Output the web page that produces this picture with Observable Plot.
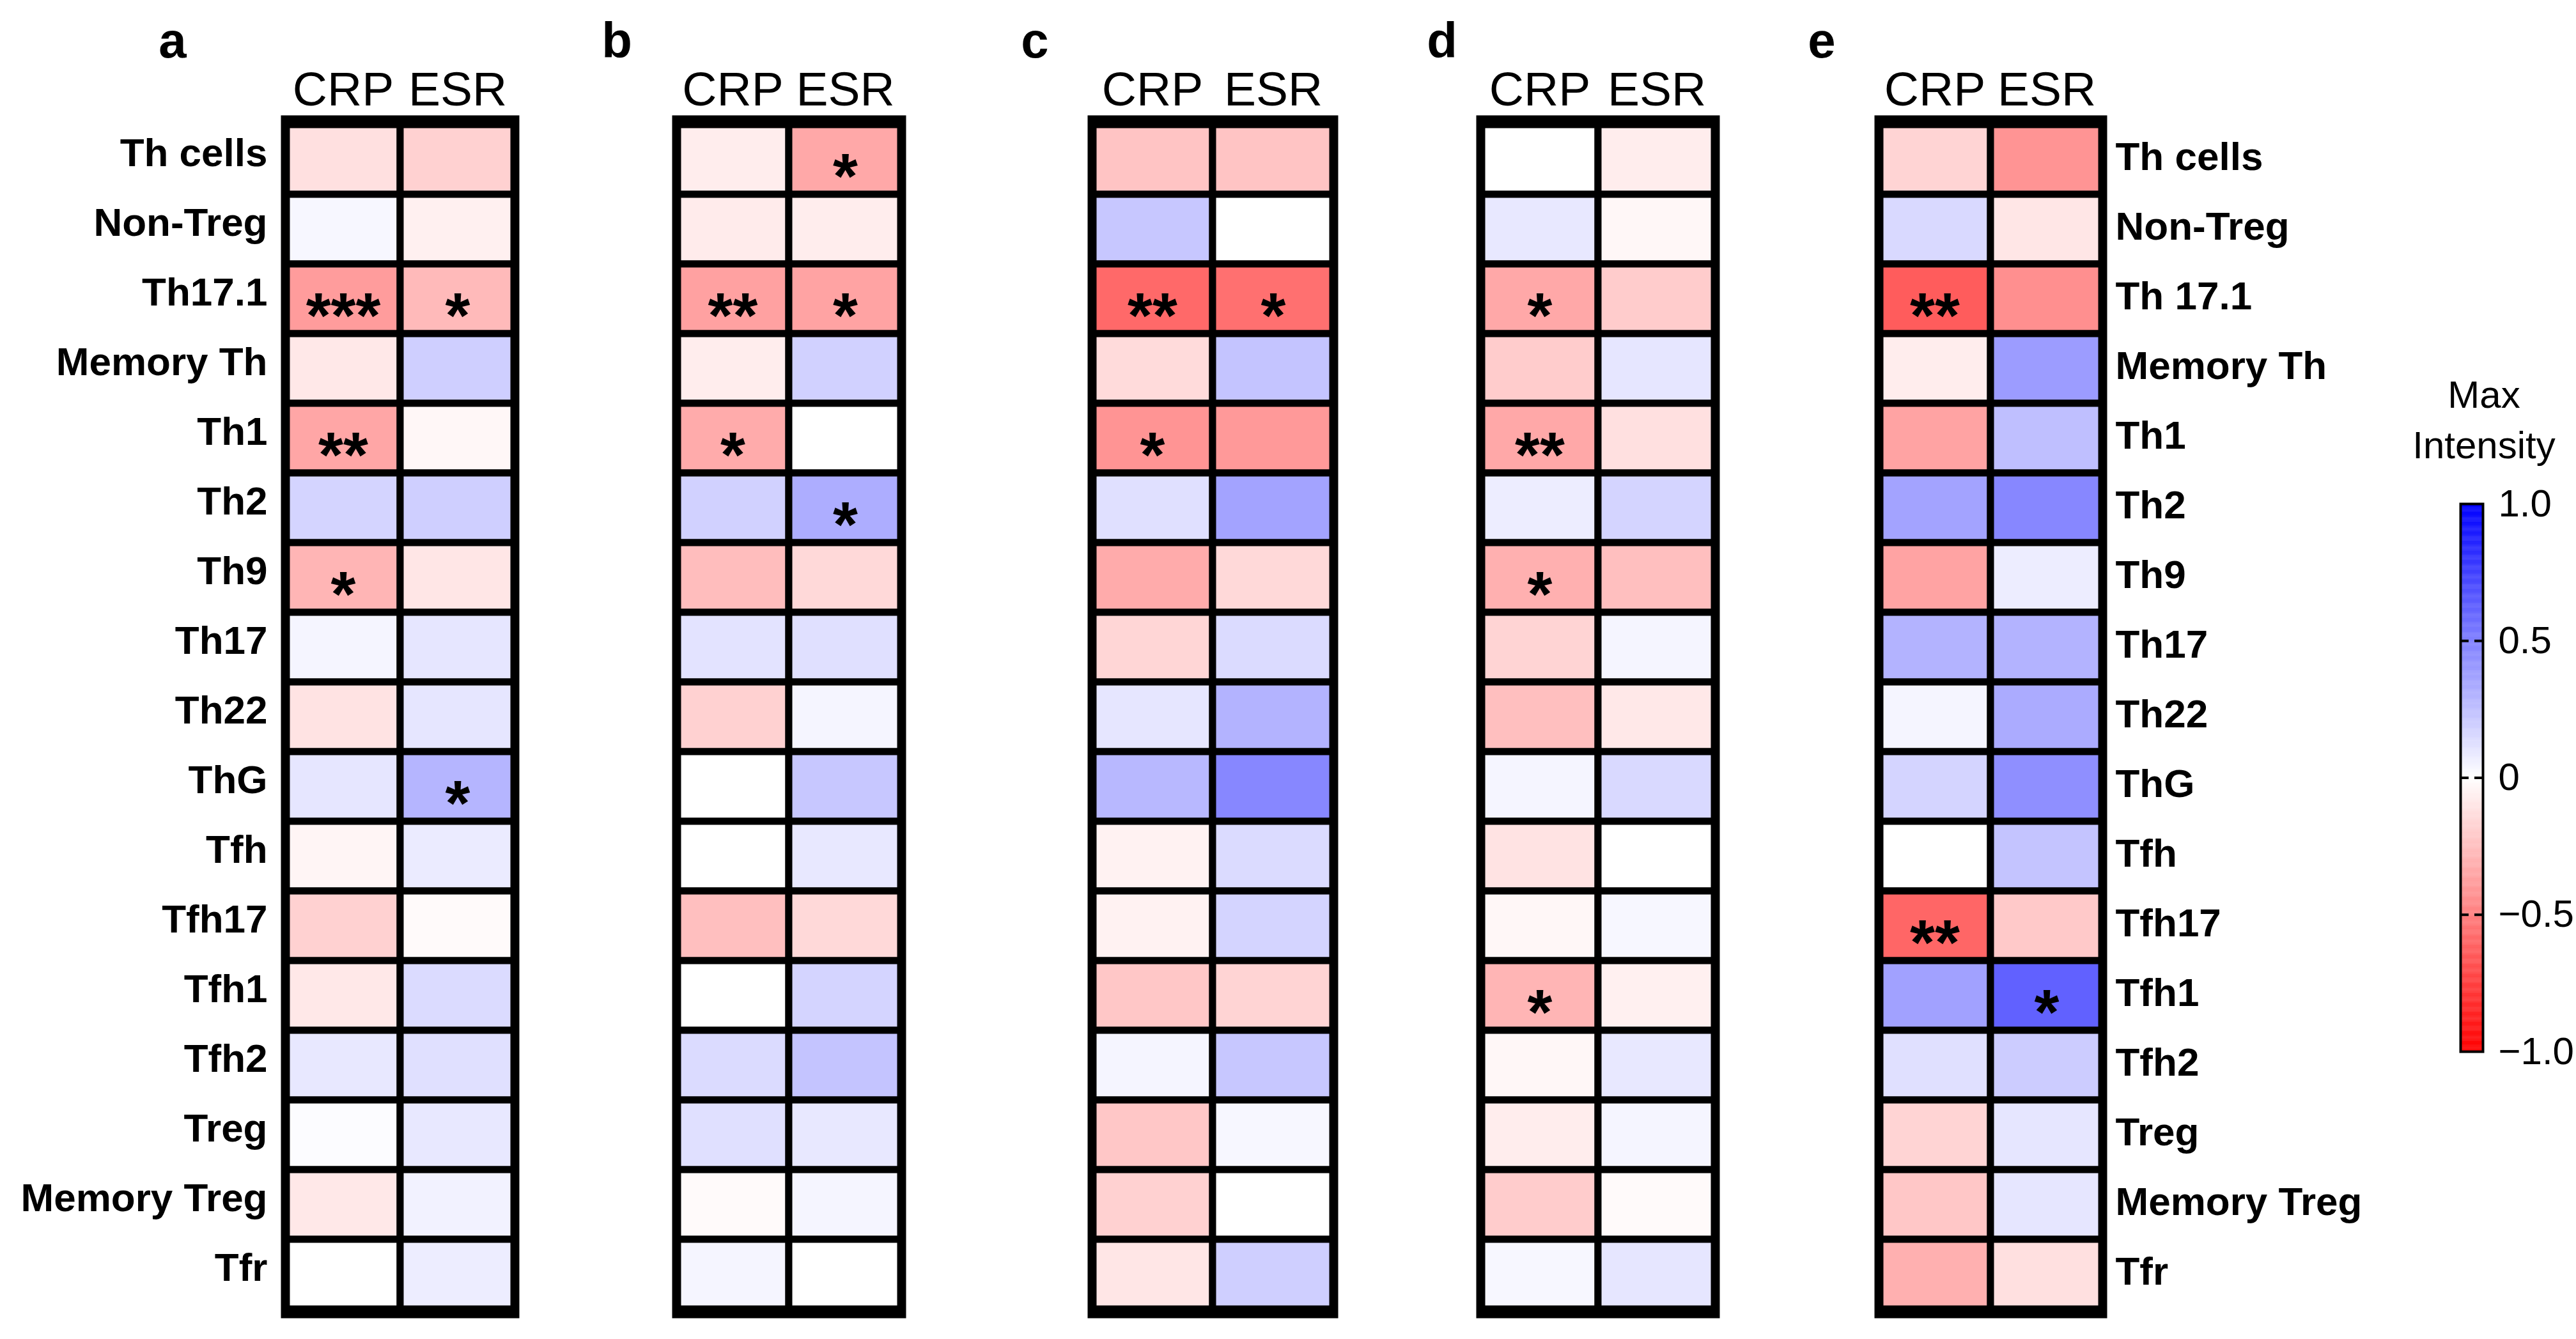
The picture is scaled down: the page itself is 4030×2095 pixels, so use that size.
<!DOCTYPE html>
<html>
<head>
<meta charset="utf-8">
<script src="https://cdn.jsdelivr.net/npm/d3@7"></script>
<script src="https://cdn.jsdelivr.net/npm/@observablehq/plot@0.6"></script>
<style>
  body { margin: 0; background: #fff; }
  #page { position: relative; width: 4030px; height: 2095px; background: #fff; overflow: hidden;
          font-family: "Liberation Sans", Arial, sans-serif; color: #000; }
  .panel { position: absolute; top: 0; }
  .letter { position: absolute; top: 24px; font-weight: bold; font-size: 78px; line-height: 1; transform: translateX(-50%); }
  .ltitle { position: absolute; left: 3686px; width: 400px; top: 578px; text-align: center; font-size: 60px; line-height: 79px; }
</style>
</head>
<body>
<div id="page"></div>
<script>
// ---- data ----
const cellTypes = ["Th cells","Non-Treg","Th17.1","Memory Th","Th1","Th2","Th9","Th17","Th22","ThG","Tfh","Tfh17","Tfh1","Tfh2","Treg","Memory Treg","Tfr"];
const cellTypesE = ["Th cells","Non-Treg","Th 17.1","Memory Th","Th1","Th2","Th9","Th17","Th22","ThG","Tfh","Tfh17","Tfh1","Tfh2","Treg","Memory Treg","Tfr"];
const columns = ["CRP","ESR"];
const panelLetters = ["a","b","c","d","e"];

const crpA = [-0.12, 0.03, -0.39, -0.09, -0.35, 0.17, -0.29, 0.04, -0.11, 0.10, -0.04, -0.18, -0.09, 0.09, 0.01, -0.09, 0.00];
const esrA = [-0.18, -0.06, -0.27, 0.19, -0.03, 0.19, -0.10, 0.10, 0.10, 0.29, 0.08, -0.02, 0.14, 0.12, 0.09, 0.05, 0.07];
const crpB = [-0.07, -0.08, -0.37, -0.07, -0.33, 0.18, -0.26, 0.11, -0.18, 0.00, 0.00, -0.25, 0.00, 0.14, 0.12, -0.02, 0.04];
const esrB = [-0.34, -0.07, -0.36, 0.18, 0.00, 0.32, -0.15, 0.12, 0.04, 0.22, 0.09, -0.15, 0.17, 0.23, 0.09, 0.04, 0.00];
const crpC = [-0.23, 0.22, -0.59, -0.14, -0.42, 0.12, -0.33, -0.16, 0.10, 0.28, -0.05, -0.05, -0.22, 0.04, -0.22, -0.18, -0.10];
const esrC = [-0.23, 0.00, -0.56, 0.23, -0.40, 0.36, -0.15, 0.14, 0.30, 0.47, 0.14, 0.17, -0.17, 0.22, 0.03, 0.00, 0.19];
const crpD = [0.00, 0.09, -0.34, -0.20, -0.34, 0.07, -0.31, -0.17, -0.25, 0.04, -0.11, -0.03, -0.29, -0.03, -0.07, -0.20, 0.03];
const esrD = [-0.07, -0.03, -0.20, 0.10, -0.12, 0.17, -0.25, 0.04, -0.09, 0.15, 0.00, 0.03, -0.06, 0.09, 0.04, -0.02, 0.10];
const crpE = [-0.17, 0.15, -0.64, -0.07, -0.36, 0.36, -0.36, 0.30, 0.04, 0.17, 0.00, -0.60, 0.37, 0.12, -0.17, -0.22, -0.31];
const esrE = [-0.42, -0.10, -0.44, 0.39, 0.25, 0.47, 0.07, 0.30, 0.33, 0.44, 0.23, -0.21, 0.62, 0.20, 0.10, 0.10, -0.12];

const starsCrpA = ["","","***","","**","","*","","","","","","","","","",""];
const starsEsrA = ["","","*","","","","","","","*","","","","","","",""];
const starsCrpB = ["","","**","","*","","","","","","","","","","","",""];
const starsEsrB = ["*","","*","","","*","","","","","","","","","","",""];
const starsCrpC = ["","","**","","*","","","","","","","","","","","",""];
const starsEsrC = ["","","*","","","","","","","","","","","","","",""];
const starsCrpD = ["","","*","","**","","*","","","","","","*","","","",""];
const starsEsrD = ["","","","","","","","","","","","","","","","",""];
const starsCrpE = ["","","**","","","","","","","","","**","","","","",""];
const starsEsrE = ["","","","","","","","","","","","","*","","","",""];

const legendTicks = [-1, -0.5, 0, 0.5, 1];
const legendDashes = [-0.5, 0, 0.5];
const legendTitle = ["Max", "Intensity"];

// ---- layout ----
const H = 2095, TOP = 187, BOTTOM = 2055;
const FONT = "'Liberation Sans', Arial, sans-serif";
const color = {type: "linear", domain: [-1, 0, 1], range: ["#ff0000", "#ffffff", "#0000ff"], interpolate: "rgb"};

const panels = [
  {L: 0,    W: 930, bl: 446,  br: 805,  lx: 270,  crp: crpA, esr: esrA, sc: starsCrpA, se: starsEsrA, labels: "left"},
  {L: 930,  W: 630, bl: 1058, br: 1410, lx: 965,  crp: crpB, esr: esrB, sc: starsCrpB, se: starsEsrB, labels: null},
  {L: 1560, W: 640, bl: 1708, br: 2086, lx: 1619, crp: crpC, esr: esrC, sc: starsCrpC, se: starsEsrC, labels: null},
  {L: 2200, W: 600, bl: 2316, br: 2683, lx: 2256, crp: crpD, esr: esrD, sc: starsCrpD, se: starsEsrD, labels: null},
  {L: 2800, W: 920, bl: 2939, br: 3289, lx: 2850, crp: crpE, esr: esrE, sc: starsCrpE, se: starsEsrE, labels: "right"}
];

const page = document.getElementById("page");

panels.forEach((p, k) => {
  const data = cellTypes.flatMap((t, i) => [
    {row: t, col: columns[0], v: p.crp[i], star: p.sc[i]},
    {row: t, col: columns[1], v: p.esr[i], star: p.se[i]}
  ]);
  const marks = [
    Plot.cell(data, {x: "col", y: "row", fill: "v", stroke: "black", strokeWidth: 11, inset: 0}),
    Plot.frame({stroke: "black", strokeWidth: 14}),
    Plot.text(data.filter(d => d.star), {x: "col", y: "row", text: "star", fontSize: 100, fontWeight: "bold", fill: "black", dy: 28}),
    Plot.axisX({anchor: "top", tickSize: 0, tickPadding: 23, fontSize: 75, label: null})
  ];
  if (p.labels === "left") {
    marks.push(Plot.axisY({anchor: "left", tickSize: 0, tickPadding: 28, fontSize: 62, fontWeight: "bold", label: null, dy: -10}));
  } else if (p.labels === "right") {
    marks.push(Plot.axisY({anchor: "right", tickSize: 0, tickPadding: 20, fontSize: 62, fontWeight: "bold", label: null, dy: -4,
      tickFormat: d => cellTypesE[cellTypes.indexOf(d)]}));
  }
  const svg = Plot.plot({
    width: p.W, height: H,
    marginLeft: p.bl - p.L, marginRight: p.L + p.W - p.br,
    marginTop: TOP, marginBottom: H - BOTTOM,
    style: {background: "transparent", fontFamily: FONT, color: "black"},
    x: {type: "band", domain: columns, padding: 0},
    y: {type: "band", domain: cellTypes, padding: 0, axis: p.labels ? undefined : null},
    color,
    marks
  });
  const wrap = document.createElement("div");
  wrap.className = "panel";
  wrap.style.left = p.L + "px";
  wrap.appendChild(svg);
  page.appendChild(wrap);
});

// ---- legend (colour bar) ----
{
  const L = 3720, W = 310, bl = 3849, br = 3884, bt = 788, bb = 1645;
  const steps = d3.range(-1, 1, 0.005);
  const svg = Plot.plot({
    width: W, height: H,
    marginLeft: bl - L, marginRight: L + W - br,
    marginTop: bt, marginBottom: H - bb,
    style: {background: "transparent", fontFamily: FONT, color: "black"},
    x: {axis: null},
    y: {type: "linear", domain: [-1, 1]},
    color,
    marks: [
      Plot.rect(steps, {y1: d => d, y2: d => Math.min(1, d + 0.0055), fill: d => d + 0.0025}),
      Plot.ruleY(legendDashes, {stroke: "black", strokeWidth: 4, strokeDasharray: "13 9"}),
      Plot.frame({stroke: "black", strokeWidth: 4}),
      Plot.axisY({anchor: "right", ticks: legendTicks, tickSize: 0, tickPadding: 24, fontSize: 60, label: null,
        tickFormat: d => d === 0 ? "0" : d3.format(".1f")(d)})
    ]
  });
  const wrap = document.createElement("div");
  wrap.className = "panel";
  wrap.style.left = L + "px";
  wrap.appendChild(svg);
  page.appendChild(wrap);

  const t = document.createElement("div");
  t.className = "ltitle";
  t.innerHTML = legendTitle.join("<br>");
  page.appendChild(t);
}

// ---- panel letters ----
panels.forEach((p, k) => {
  const d = document.createElement("div");
  d.className = "letter";
  d.style.left = p.lx + "px";
  d.textContent = panelLetters[k];
  page.appendChild(d);
});
</script>
</body>
</html>
